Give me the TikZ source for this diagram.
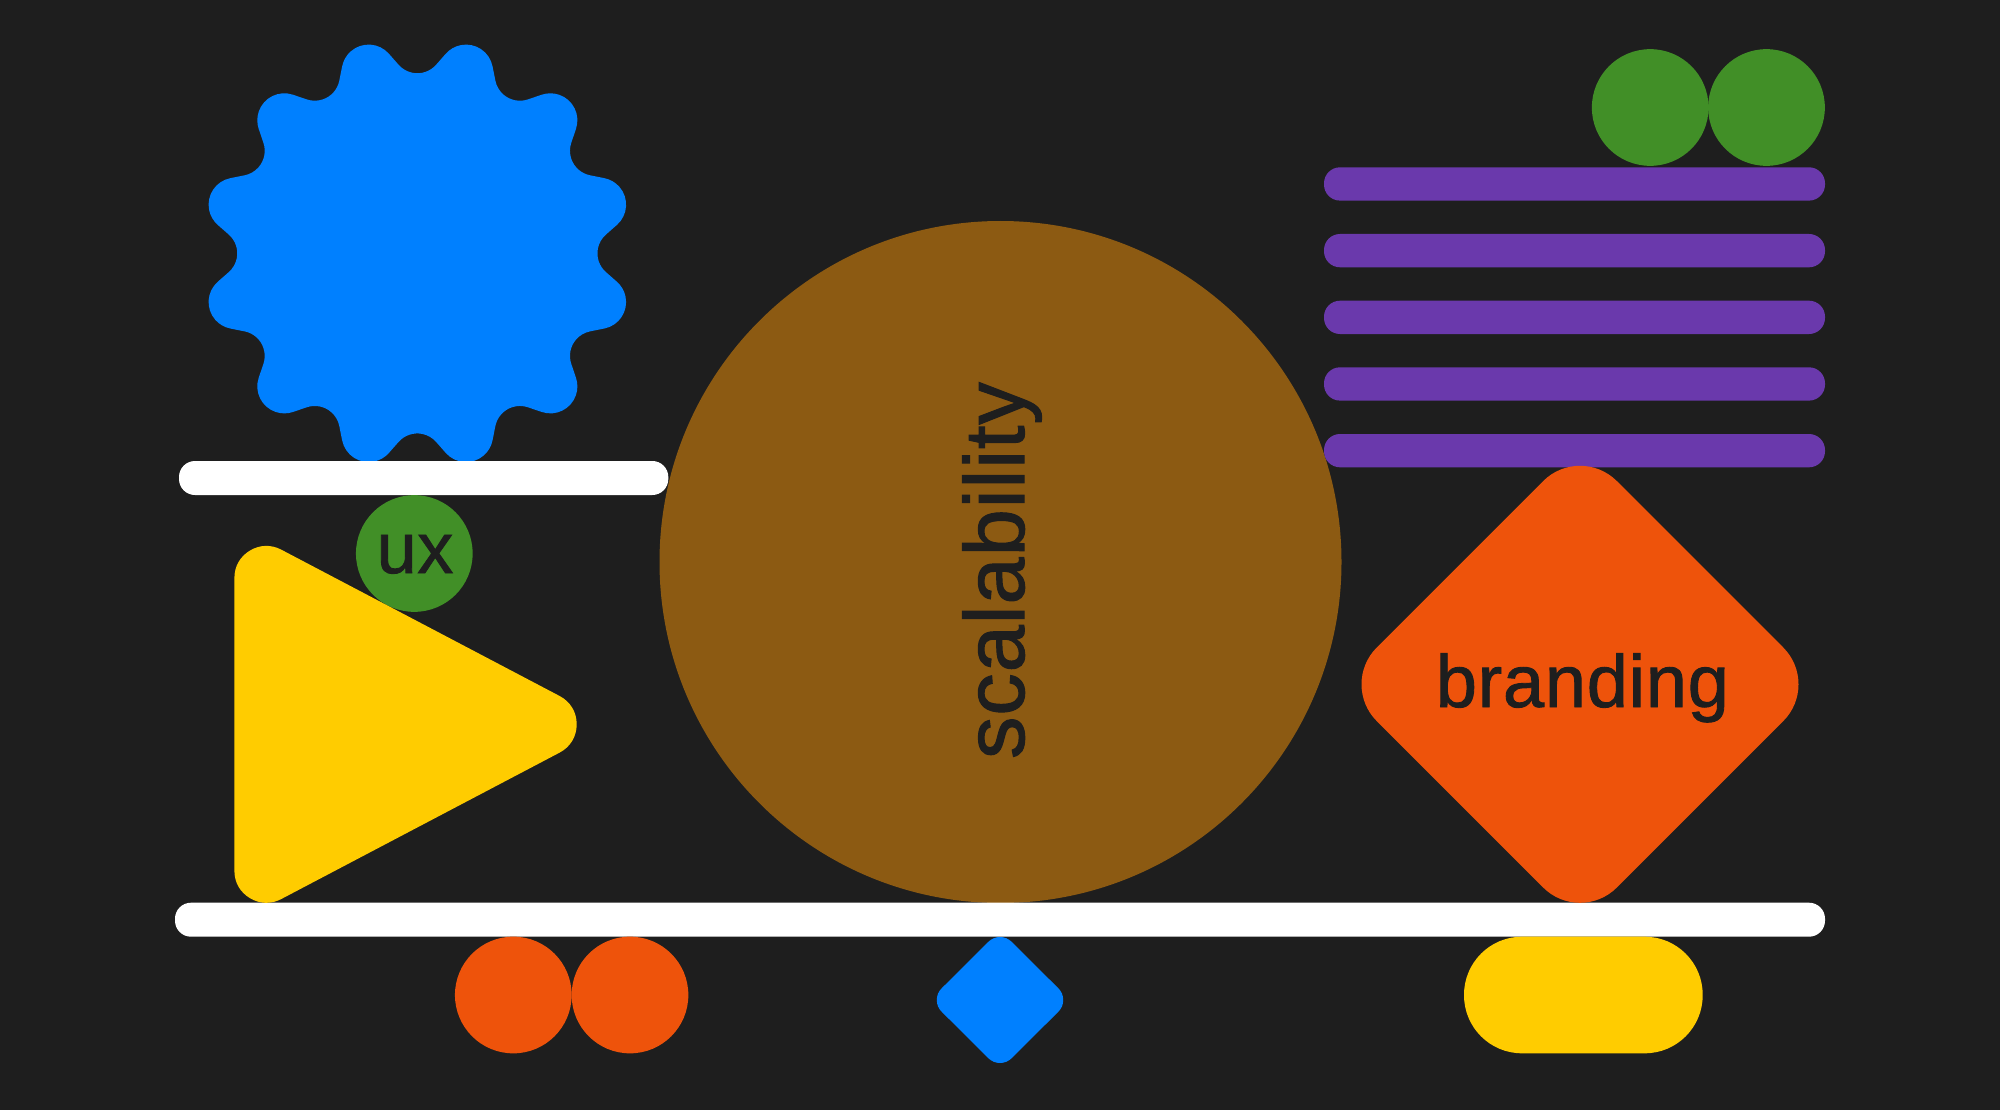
\documentclass[tikz,border=0pt]{standalone}
\usepackage{fontspec}
\setmainfont[FakeBold=1.2,LetterSpace=1]{Liberation Sans}
\definecolor{pBack}{HTML}{1E1E1E}
\definecolor{pBlue}{HTML}{0080FF}
\definecolor{pYellow}{HTML}{FFCC00}
\definecolor{pOrange}{HTML}{EE530B}
\definecolor{pGreen}{HTML}{418F27}
\definecolor{pPurple}{HTML}{6A39AC}
\definecolor{pBrown}{HTML}{8C5A12}
\tikzset{
    disc/.style={circle, inner sep=0pt, minimum size=116.7pt},
    bar/.style={rounded corners=16pt},
    word/.style={text=pBack, inner sep=0pt, anchor=base}
}

\begin{document}
\begin{tikzpicture}[x=1pt,y=-1pt]
\useasboundingbox (0,0) rectangle (2000,1110);
\fill[pBack] (0,0) rectangle (2000,1110);
% toothed wheel
\begin{scope}[shift={(417.5,253.3)},y=1pt]
\fill[pBlue] ([shift={(-48.7:27)}]15:188)
    \foreach \a in {15,45,...,345} {
        arc[start angle=\a-63.7, end angle=\a+63.7, radius=27]
        -- ++(\a+153.7:14.6)
        arc[start angle=\a+243.7, end angle=\a+146.3, radius=25]
        -- ++(\a+56.3:14.6)
    } -- cycle;
\end{scope}
% big disc
\node[disc, fill=pBrown, minimum size=682pt] (bigdisc) at (1000.5,562) {};
\node[word, rotate=90, font=\fontsize{85pt}{85pt}\selectfont] (scalability) at (1024,570.5) {scalability};
% bars
\fill[bar, white] (179,461) rectangle (668.3,495);
\fill[bar, white] (175,902.7) rectangle (1825,936.7);
\foreach \y in {167.3,234,300.7,367.3,434}
    \fill[bar, pPurple] (1324,\y) rectangle (1825,\y+33.3);
% triangle
\node[disc, fill=pGreen] (uxdisc) at (414.3,553.5) {};
\filldraw[pYellow, line width=64pt, line join=round] (266.4,578) -- (544.7,724.3) -- (266.4,870.7) -- cycle;
\node[word, font=\fontsize{72pt}{72pt}\selectfont] (ux) at (415,573) {ux};
% diamonds
\filldraw[pOrange, line width=104pt, line join=round] (1580,517.8) -- (1746.5,684.3) -- (1580,850.8) -- (1413.5,684.3) -- cycle;
\node[word, font=\fontsize{74pt}{74pt}\selectfont] (branding) at (1582.4,707) {branding};
\filldraw[pBlue, line width=33pt, line join=round] (1000,953.5) -- (1046.7,1000) -- (1000,1046.5) -- (953.3,1000) -- cycle;
% small discs
\node[disc, fill=pGreen] (greenA) at (1650.2,107.5) {};
\node[disc, fill=pGreen] (greenB) at (1766.5,107.5) {};
\node[disc, fill=pOrange] (orangeA) at (513.3,995) {};
\node[disc, fill=pOrange] (orangeB) at (630,995) {};
\fill[pYellow, rounded corners=58pt] (1464,936.7) rectangle (1702.7,1053.3);
\end{tikzpicture}
\end{document}
